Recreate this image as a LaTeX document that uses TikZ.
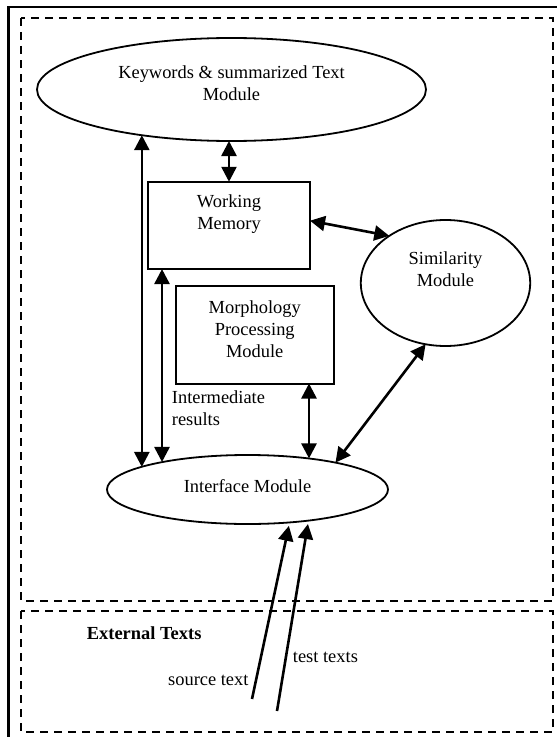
\documentclass[tikz,border=0pt]{standalone}
\usepackage{fontspec}
\setmainfont{Liberation Serif}
\usetikzlibrary{arrows.meta,shapes.geometric}
\begin{document}
\begin{tikzpicture}[x=1bp,y=-1bp,
  font=\fontsize{18.5}{22}\selectfont,
  ell/.style={ellipse,draw,line width=1.8bp,inner sep=0,outer sep=0},
  box/.style={rectangle,draw,line width=2bp,inner sep=0,outer sep=0},
  txt/.style={align=center,inner sep=0},
  arr/.style={line width=2.6bp,{Triangle[length=15bp,width=15bp]}-{Triangle[length=15bp,width=15bp]}},
  one/.style={line width=2.6bp,-{Triangle[length=15bp,width=15bp]}},
  frame/.style={dash pattern=on 8bp off 6bp,line width=2.2bp}]
\useasboundingbox (0,0) rectangle (557,737);
\draw[line width=2.4bp] (8.5,737) -- (8.5,7) -- (557,7);
\draw[frame] (21,18) rectangle (553,601);
\draw[frame] (21,611) rectangle (553,732);

\node[ell,minimum width=389bp,minimum height=103bp] (kw) at (231.5,89.5) {};
\node[txt] (kwt) at (231.5,83) {Keywords \& summarized Text\\Module};
\node[box,minimum width=162bp,minimum height=87.3bp] (wm) at (229,225.4) {};
\node[txt] (wmt) at (229,214.5) {Working\\Memory};
\node[ell,minimum width=169.4bp,minimum height=126bp] (sim) at (445.5,283) {};
\node[txt] (simt) at (445.5,269.5) {Similarity\\Module};
\node[box,minimum width=157.5bp,minimum height=97.8bp] (mp) at (254.75,334.6) {};
\node[txt] (mpt) at (254.75,329) {Morphology\\Processing\\Module};
\node[ell,minimum width=281bp,minimum height=69bp] (ifc) at (247.5,489.5) {};
\node[txt] (ifct) at (247.5,486) {Interface Module};
\node[txt,anchor=west,align=left] (inter) at (171.7,408) {Intermediate\\results};
\node[txt,anchor=west,font=\fontsize{18.5}{22}\selectfont\bfseries] (ext) at (86.7,633) {External Texts};
\node[txt,anchor=east] (src) at (248.7,680) {source text};
\node[txt,anchor=west] (tst) at (292.7,657) {test texts};

\coordinate (w2) at ([xshift=14bp]wm.south west);
\coordinate (m2) at ([xshift=-24.5bp]mp.south east);
\coordinate (s0) at (252,699);
\coordinate (t0) at (277,711);

\draw[arr] (kw.207) -- (kw.207 |- ifc.168);
\draw[arr] (w2) -- (w2 |- ifc.162);
\draw[arr] (wm.north |- kw.south) -- (wm.north);
\draw[arr] ([yshift=4.7bp]wm.east) -- (sim.140);
\draw[arr] (m2) -- (m2 |- ifc.27);
\draw[arr] (sim.252) -- (ifc.17);
\draw[one,shorten >=3.5bp] (s0) -- (ifc.-38);
\draw[one,shorten >=3.5bp] (t0) -- (ifc.-27);
\end{tikzpicture}
\end{document}
